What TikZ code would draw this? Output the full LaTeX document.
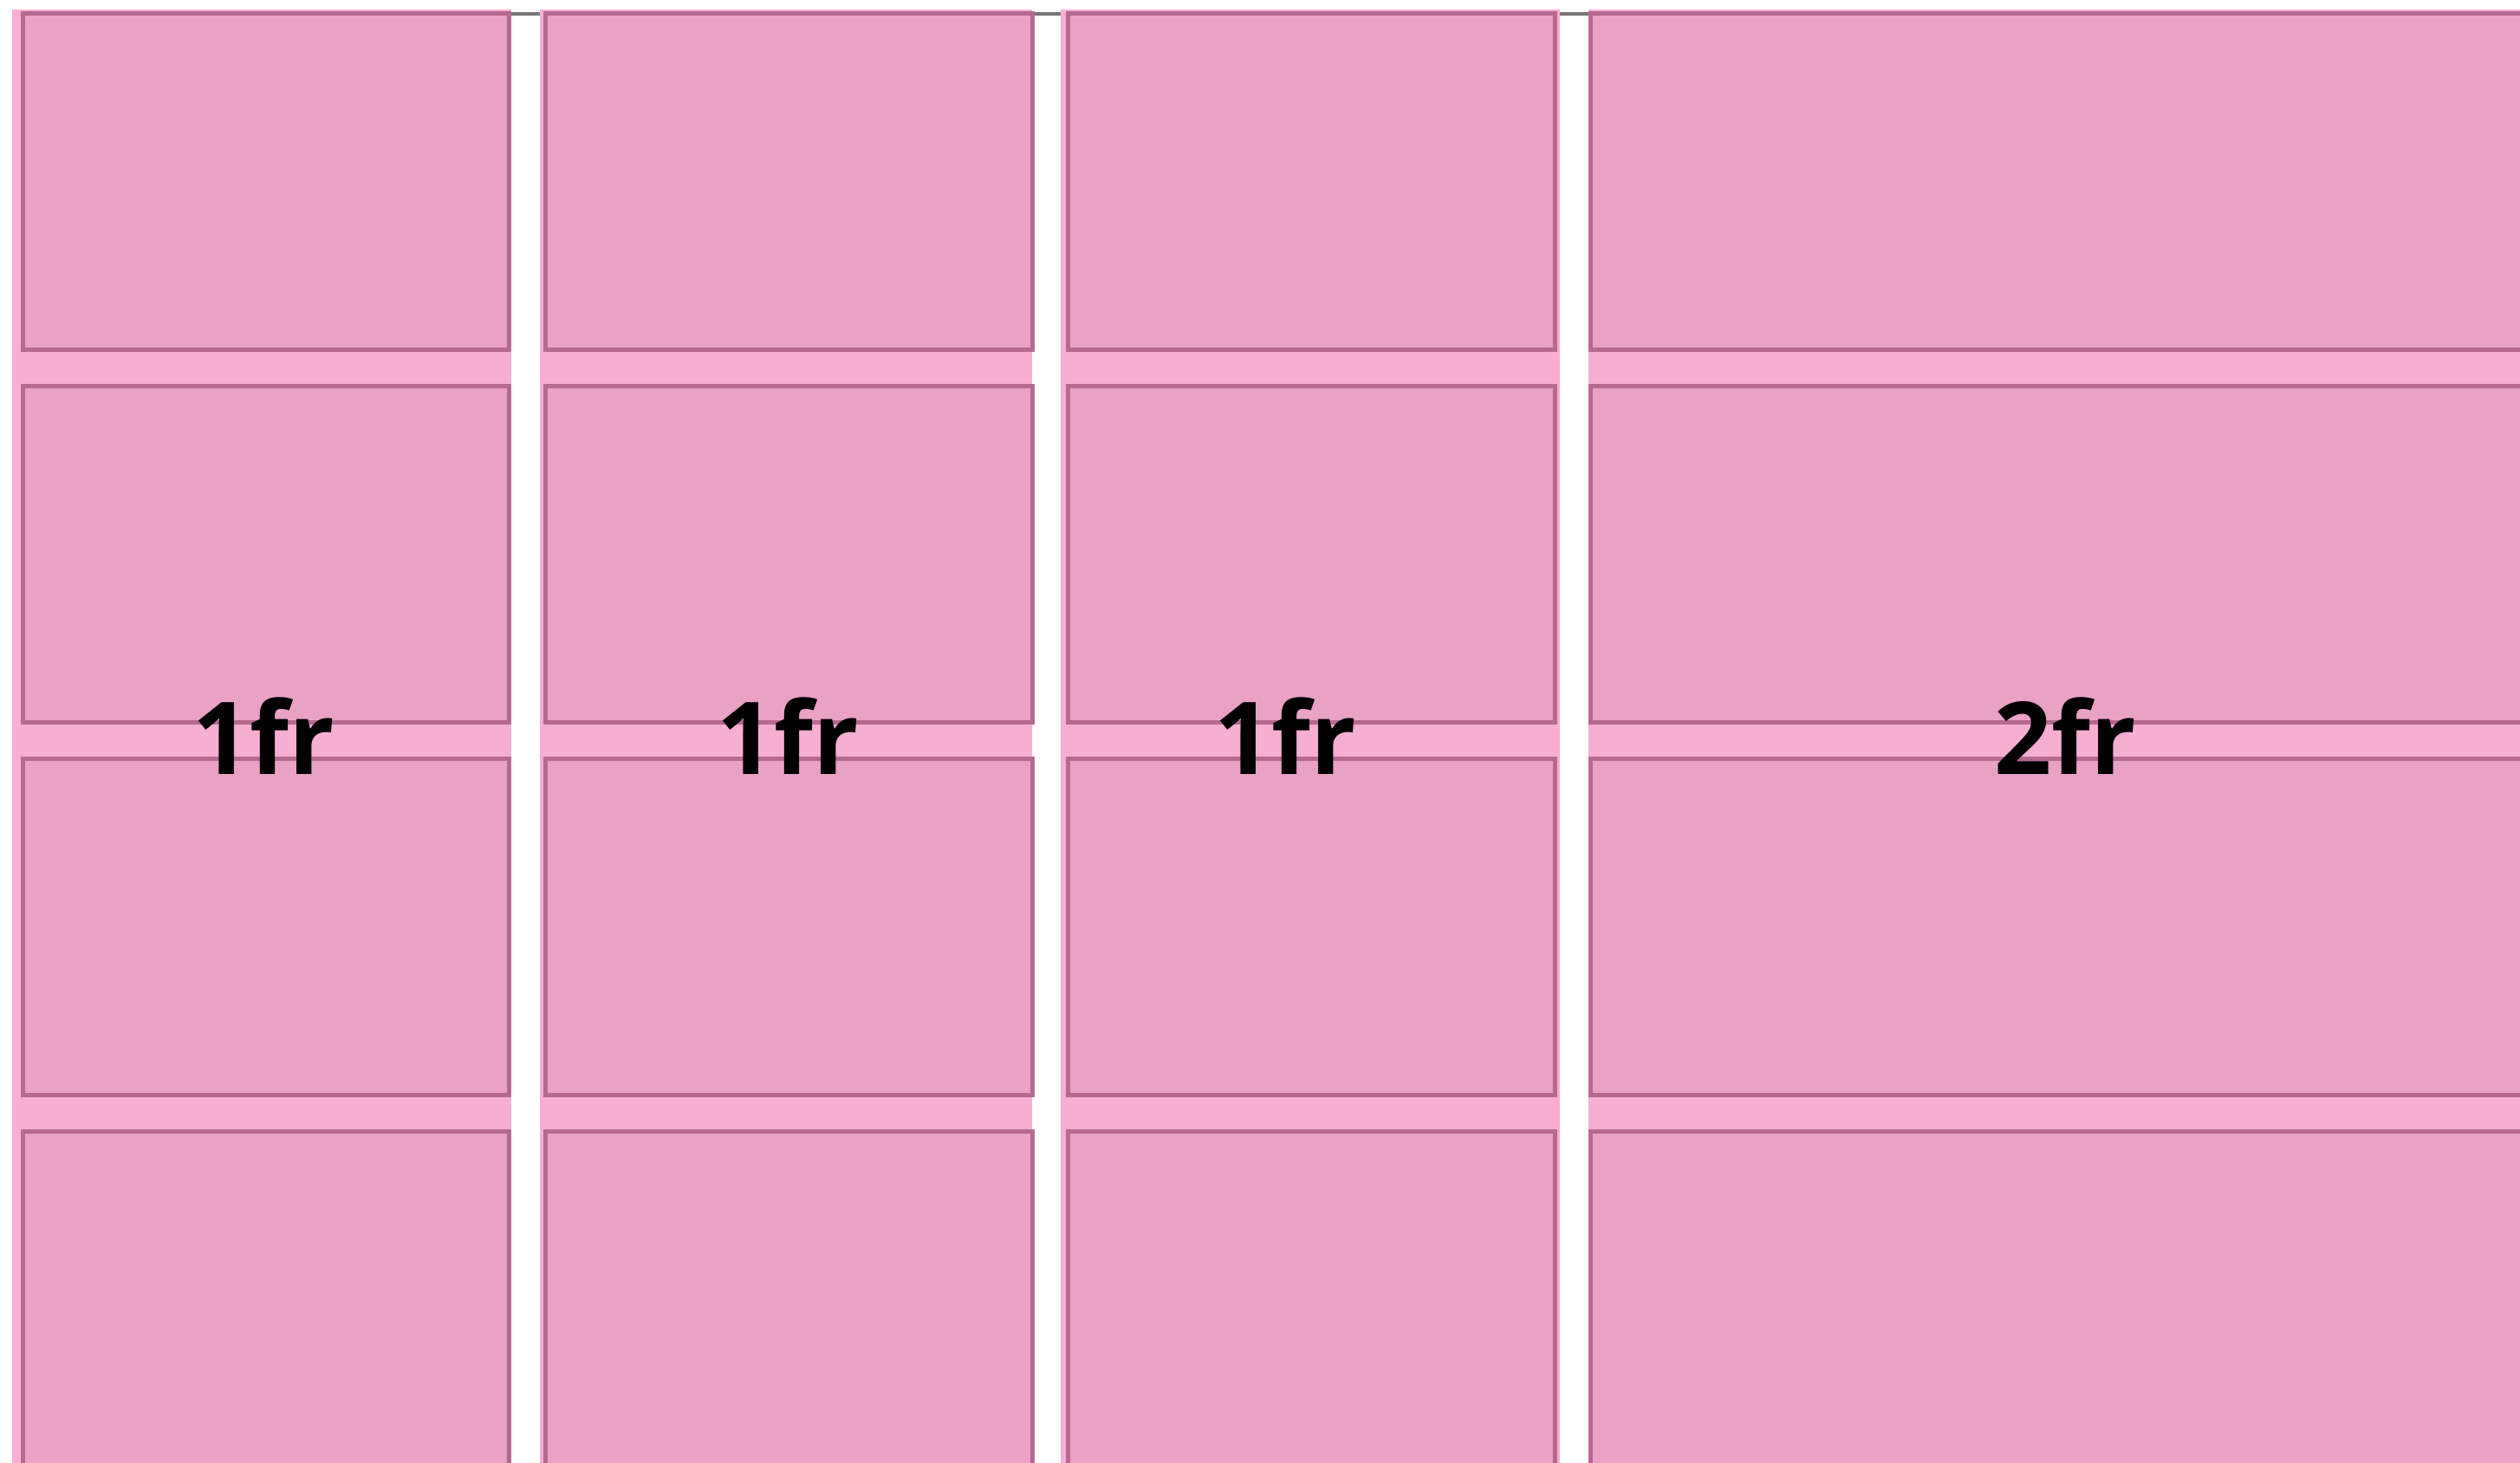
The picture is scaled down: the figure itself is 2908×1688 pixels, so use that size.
\documentclass[tikz,border=0pt]{standalone}
\usepackage{fontspec}
\setmainfont{Open Sans}
\usetikzlibrary{positioning}
\definecolor{trackpink}{HTML}{F7AED3}
\definecolor{cellpink}{HTML}{E9A2C5}
\definecolor{cellline}{HTML}{B66890}
\definecolor{edgegray}{HTML}{767676}

\begin{document}
\begin{tikzpicture}[
  x=0.01cm, y=-0.01cm,
  track/.style={fill=trackpink},
  cell/.style={fill=cellpink, draw=cellline, line width=0.055cm},
  frlabel/.style={font=\fontsize{33}{40}\selectfont\bfseries, anchor=base, inner sep=0pt}
]
\useasboundingbox (0,0) rectangle (2908,1688);
\clip (0,0) rectangle (2908,1688);
% container edge
\draw[edgegray, line width=0.045cm] (14,16) -- (2908,16);
% column tracks
\foreach \xa/\xb in {14/590, 623/1191, 1224/1800, 1833/3000}
  \fill[track] (\xa,11) rectangle (\xb,1720);
% grid items
\foreach \xa/\xb in {26.5/587.5, 629.5/1191.5, 1232.5/1794.5, 1835.5/2980}
  \foreach \ya in {15.5, 445.5, 875.5, 1305.5}
    \draw[cell] (\xa,\ya) rectangle (\xb,\ya+388);
% track sizes
\foreach \n/\xc/\t in {a/304/1fr, b/909/1fr, c/1483/1fr, d/2383/2fr}
  \node[frlabel] (size\n) at (\xc,893) {\t};
\end{tikzpicture}
\end{document}
